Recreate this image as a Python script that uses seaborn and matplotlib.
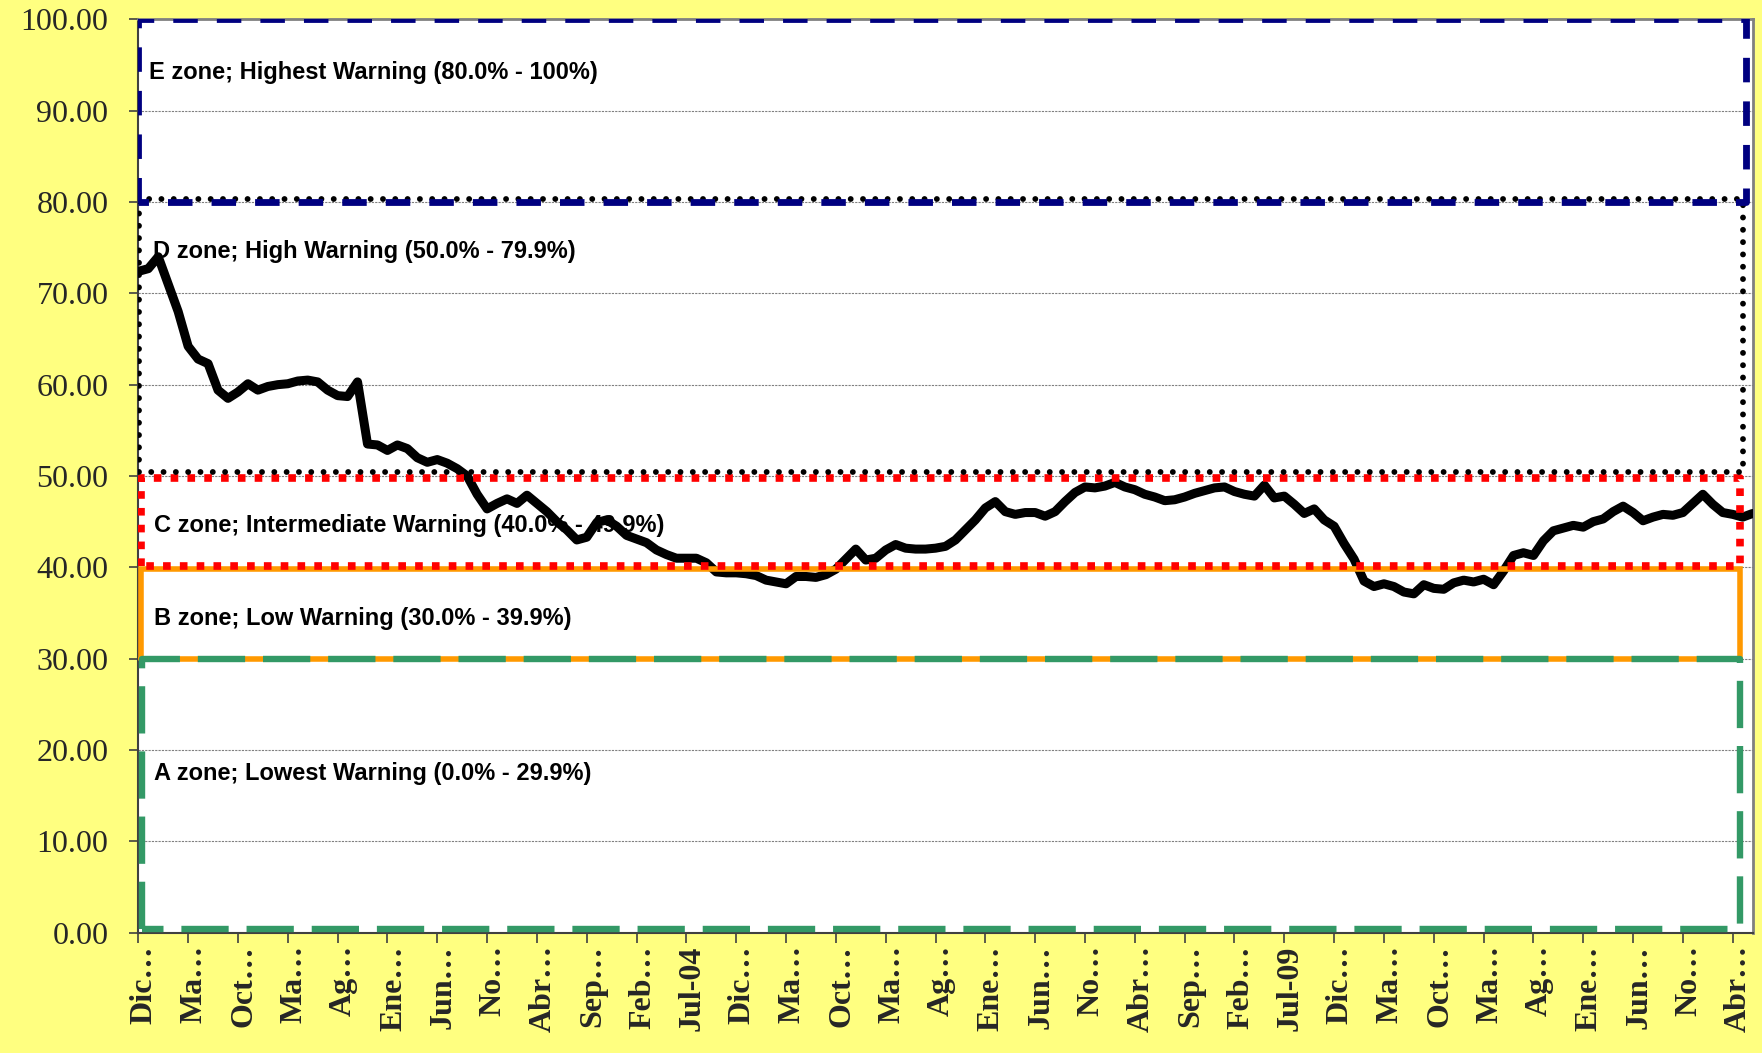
import matplotlib
matplotlib.use("Agg")
import matplotlib.pyplot as plt
import matplotlib.transforms as mtransforms
import seaborn as sns
import numpy as np
import pandas as pd

# ---------------- data ----------------
values = [
    72.4, 72.7, 74.0, 71.0, 68.0, 64.2, 62.8, 62.3, 59.4, 58.5,
    59.2, 60.1, 59.4, 59.8, 60.0, 60.1, 60.4, 60.5, 60.3, 59.4,
    58.8, 58.7, 60.3, 53.5, 53.4, 52.8, 53.4, 53.0, 52.0, 51.5,
    51.8, 51.4, 50.8, 50.0, 48.0, 46.4, 47.0, 47.5, 47.0, 47.9,
    47.0, 46.1, 45.0, 44.1, 43.0, 43.3, 44.9, 45.2, 44.5, 43.5,
    43.1, 42.7, 41.9, 41.4, 41.0, 41.0, 41.0, 40.5, 39.5, 39.4,
    39.4, 39.3, 39.1, 38.6, 38.4, 38.2, 39.0, 39.0, 38.9, 39.2,
    39.8, 40.9, 42.0, 40.8, 41.0, 41.9, 42.5, 42.1, 42.0, 42.0,
    42.1, 42.3, 43.0, 44.1, 45.2, 46.5, 47.2, 46.1, 45.8, 46.0,
    46.0, 45.6, 46.1, 47.2, 48.2, 48.8, 48.7, 48.9, 49.3, 48.8,
    48.5, 48.0, 47.7, 47.3, 47.4, 47.7, 48.1, 48.4, 48.7, 48.8,
    48.3, 48.0, 47.8, 49.0, 47.6, 47.8, 46.9, 45.9, 46.4, 45.2,
    44.5, 42.6, 40.9, 38.5, 37.9, 38.2, 37.9, 37.3, 37.1, 38.1,
    37.7, 37.6, 38.3, 38.6, 38.4, 38.7, 38.1, 39.6, 41.3, 41.6,
    41.3, 42.9, 44.0, 44.3, 44.6, 44.4, 45.0, 45.3, 46.1, 46.7,
    46.0, 45.1, 45.5, 45.8, 45.7, 46.0, 47.0, 48.0, 46.9, 46.0,
    45.8, 45.5, 45.9,
]

tick_labels = [
    "Dic…", "Ma…", "Oct…", "Ma…", "Ag…", "Ene…", "Jun…", "No…", "Abr…",
    "Sep…", "Feb…", "Jul-04", "Dic…", "Ma…", "Oct…", "Ma…", "Ag…", "Ene…",
    "Jun…", "No…", "Abr…", "Sep…", "Feb…", "Jul-09", "Dic…", "Ma…", "Oct…",
    "Ma…", "Ag…", "Ene…", "Jun…", "No…", "Abr…",
]
tick_step = 5

zone_names = [
    "A zone; Lowest Warning (0.0% - 29.9%)",
    "B zone; Low Warning (30.0% - 39.9%)",
    "C zone; Intermediate Warning (40.0% - 49.9%)",
    "D zone; High Warning (50.0% - 79.9%)",
    "E zone; Highest Warning (80.0% - 100%)",
]
zone_low = [0.4, 30.0, 40.2, 50.4, 80.0]
zone_high = [30.0, 39.8, 49.8, 80.3, 100.0]

y_ticks = [0, 10, 20, 30, 40, 50, 60, 70, 80, 90, 100]

# ---------------- styles ----------------
zone_styles = [
    dict(color="#339966", lw=4.6, ls=(0, (7.4, 2.8)), cap="butt", l=0.37, r=1.9, z=5),
    dict(color="#FF9900", lw=4.0, ls="-", cap="butt", l=0.23, r=1.9, z=4),
    dict(color="#FF0000", lw=5.5, ls=(0, (1, 1.2)), cap="butt", l=0.27, r=1.9, z=6),
    dict(color="#000000", lw=4.2, ls=(0, (0.01, 2.1)), cap="round", l=0.07, r=1.6, z=7),
    dict(color="#000080", lw=4.9, ls=(0, (3.6, 2.8)), cap="butt", l=0.0, r=1.3, z=8),
]
label_pos = [(1.6, 17.4), (1.6, 34.4), (1.6, 44.6), (1.45, 74.6), (1.1, 94.2)]

sns.set_theme(style="white")
plt.rcParams["font.family"] = ["Liberation Sans", "DejaVu Sans"]

fig = plt.figure(figsize=(17.62, 10.53), dpi=100, facecolor="#FFFF80")
ax = fig.add_axes([0.0785, 0.1142, 0.9947 - 0.0785, 0.9817 - 0.1142])
ax.set_facecolor("white")

n = len(values)
df = pd.DataFrame({"idx": np.arange(n), "value": values})

sns.lineplot(data=df, x="idx", y="value", ax=ax, color="black", zorder=3)
main_line = ax.lines[-1]
main_line.set_linewidth(6.5)
main_line.set_solid_capstyle("round")
main_line.set_solid_joinstyle("round")

x_last = n - 1
for lo, hi, st in zip(zone_low, zone_high, zone_styles):
    x0 = st["l"]
    x1 = x_last - st["r"] + 0.6
    xs = [x0, x0, x1, x1, x0]
    ys = [lo, hi, hi, lo, lo]
    line, = ax.plot(xs, ys, color=st["color"], linewidth=st["lw"], linestyle=st["ls"],
                    zorder=st["z"], solid_joinstyle="miter")
    line.set_dash_capstyle(st["cap"])

for name, (lx, ly) in zip(zone_names, label_pos):
    ax.text(lx, ly, name, fontsize=17, fontweight="bold", color="black",
            family=["Liberation Sans", "DejaVu Sans"], va="center", ha="left",
            zorder=2)

ax.set_xlim(0, x_last)
ax.set_ylim(0, 100)

ax.set_xticks(np.arange(0, len(tick_labels) * tick_step, tick_step))
ax.set_xticklabels(tick_labels, rotation=90, fontsize=23, fontweight="bold",
                   family=["Liberation Serif", "DejaVu Serif"])
ax.set_yticks(y_ticks)
ax.set_yticklabels([f"{v:.2f}" for v in y_ticks], fontsize=23,
                   family=["Liberation Serif", "DejaVu Serif"])
ax.set_xlabel("")
ax.set_ylabel("")

ax.tick_params(axis="x", direction="out", length=7, width=1.2, color="#404040",
               pad=2, bottom=True)
ax.tick_params(axis="y", direction="out", length=6.5, width=1.2, color="#404040",
               pad=15, left=True)

offset = mtransforms.ScaledTranslation(6 / 100, 0, fig.dpi_scale_trans)
for lab in ax.get_xticklabels():
    lab.set_transform(lab.get_transform() + offset)

ax.yaxis.grid(True, color="#808080", linestyle=(0, (2, 1)), lw=0.8)
ax.xaxis.grid(False)
ax.set_axisbelow(True)

for side in ["top", "right"]:
    ax.spines[side].set_color("#808080")
    ax.spines[side].set_linewidth(2)
for side in ["left", "bottom"]:
    ax.spines[side].set_color("#404040")
    ax.spines[side].set_linewidth(1.5)

fig.savefig("out.png", dpi=100, facecolor=fig.get_facecolor())
